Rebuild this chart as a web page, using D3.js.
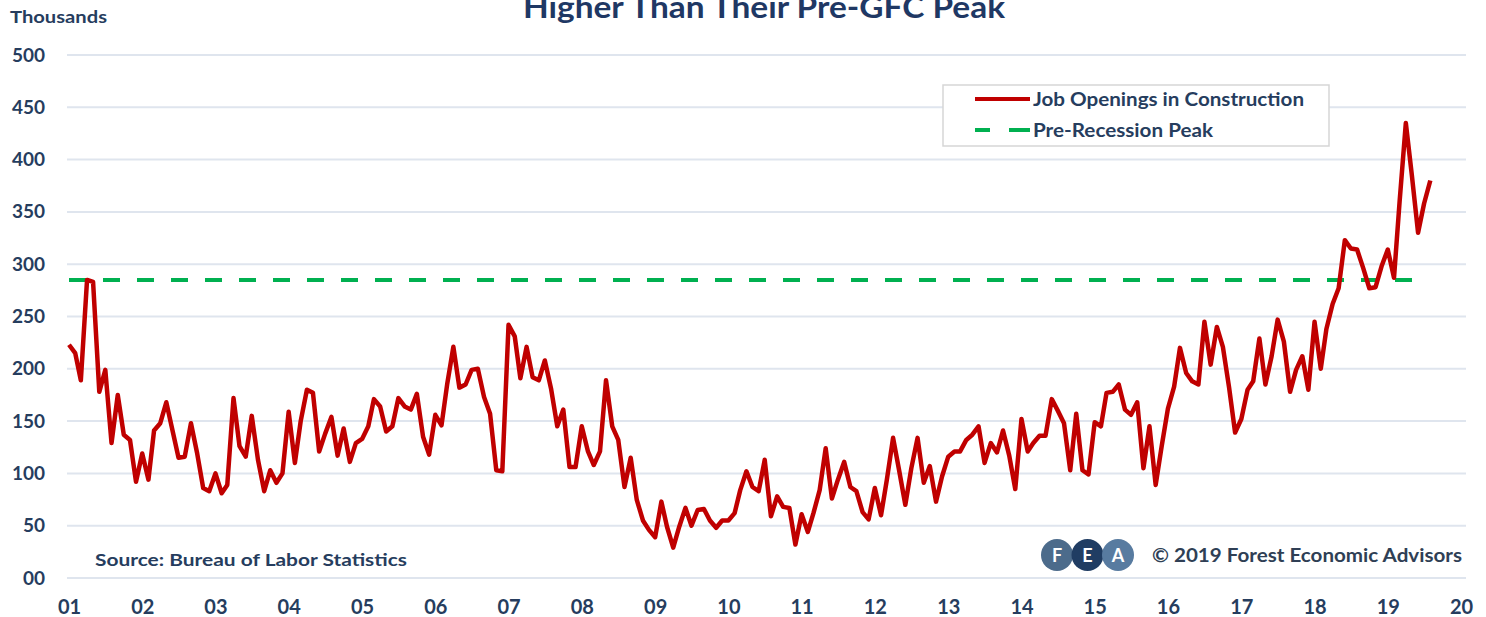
<!DOCTYPE html>
<html>
<head>
<meta charset="utf-8">
<script src="https://cdn.jsdelivr.net/npm/d3@7"></script>
<style>
  body { margin: 0; background: #fff; }
  svg { display: block; font-family: Lato, "Open Sans", sans-serif; font-weight: 700; }
</style>
</head>
<body>
<svg id="chart" width="1486" height="617"></svg>
<script>
// monthly job openings in construction, thousands, Jan 2001 - Aug 2019
const startYear = 2001;
const openings = [
  223, 215, 189, 285, 283, 178, 199, 129, 175, 137, 132, 92,   // 2001
  119, 94, 141, 148, 168, 141, 115, 116, 148, 120, 86, 83,      // 2002
  100, 81, 89, 172, 126, 116, 155, 113, 83, 103, 91, 100,       // 2003
  159, 110, 150, 180, 177, 121, 138, 154, 117, 143, 111, 129,   // 2004
  133, 145, 171, 164, 140, 145, 172, 164, 161, 176, 135, 118,   // 2005
  156, 146, 185, 221, 182, 185, 199, 200, 173, 157, 103, 102,   // 2006
  242, 231, 191, 221, 192, 189, 208, 181, 145, 161, 106, 106,   // 2007
  145, 121, 108, 121, 189, 145, 132, 87, 115, 75, 55, 46,       // 2008
  39, 73, 49, 29, 49, 67, 50, 65, 66, 55, 48, 55,               // 2009
  55, 62, 84, 102, 87, 83, 113, 59, 78, 68, 67, 32,             // 2010
  61, 44, 62, 84, 124, 76, 94, 111, 87, 83, 63, 56,             // 2011
  86, 60, 94, 134, 103, 70, 105, 134, 91, 107, 73, 97,          // 2012
  116, 121, 121, 132, 137, 145, 110, 129, 120, 141, 117, 85,    // 2013
  152, 121, 129, 136, 136, 171, 160, 148, 103, 157, 103, 99,    // 2014
  149, 145, 177, 178, 185, 161, 156, 168, 105, 145, 89, 126,    // 2015
  162, 183, 220, 196, 188, 185, 245, 204, 240, 221, 182, 139,   // 2016
  152, 180, 188, 229, 185, 212, 247, 226, 178, 199, 212, 180,   // 2017
  245, 200, 238, 262, 277, 323, 315, 314, 296, 277, 278, 298,   // 2018
  314, 287, 360, 435, 385, 330, 358, 380                        // 2019
];
const peakValue = 285;
const peakSpan = [new Date(2001, 0, 1), new Date(2019, 5, 1)];
const yTicks = [0, 50, 100, 150, 200, 250, 300, 350, 400, 450, 500];
const legendLabels = ["Job Openings in Construction", "Pre-Recession Peak"];
const logoLetters = ["F", "E", "A"];

const NAVY = "#263d5e";
const RED = "#c00000";
const GREEN = "#00b050";
const GRID = "#dfe5ee";

const series = openings.map((v, i) => ({ date: new Date(startYear, i, 1), value: v }));

const svg = d3.select("#chart");

const x = d3.scaleTime()
  .domain([new Date(2001, 0, 1), new Date(2020, 0, 1)])
  .range([69, 1461]);
const y = d3.scaleLinear().domain([0, 500]).range([578, 55]);

// gridlines
svg.append("g").selectAll("line").data(yTicks).join("line")
  .attr("x1", 67).attr("x2", 1466)
  .attr("y1", d => y(d)).attr("y2", d => y(d))
  .attr("stroke", GRID).attr("stroke-width", 2);

// y axis labels
const yAxis = svg.append("g")
  .attr("transform", "translate(45,0)")
  .call(d3.axisLeft(y).tickValues(yTicks).tickSize(0).tickPadding(0)
    .tickFormat(d => d === 0 ? "00" : d));
yAxis.select(".domain").remove();
yAxis.selectAll("text")
  .attr("fill", NAVY).attr("font-size", 19).attr("font-family", "Lato").attr("font-weight", 700);

// x axis labels
const xAxis = svg.append("g")
  .attr("transform", "translate(0,578)")
  .call(d3.axisBottom(x).ticks(d3.timeYear.every(1)).tickSize(0).tickPadding(22)
    .tickFormat(d3.timeFormat("%y")));
xAxis.select(".domain").remove();
xAxis.selectAll("text")
  .attr("fill", NAVY).attr("font-size", 20).attr("font-family", "Lato").attr("font-weight", 700);

// title, clipped at the top in the original
svg.append("text")
  .attr("x", 523).attr("y", 18)
  .attr("fill", "#1f3864").attr("font-size", 31)
  .attr("textLength", 482).attr("lengthAdjust", "spacingAndGlyphs")
  .text("Higher Than Their Pre-GFC Peak");

svg.append("text")
  .attr("x", 10).attr("y", 23)
  .attr("fill", NAVY).attr("font-size", 17)
  .attr("textLength", 97).attr("lengthAdjust", "spacingAndGlyphs")
  .text("Thousands");

// legend box
const legend = svg.append("g");
legend.append("rect")
  .attr("x", 943).attr("y", 85).attr("width", 386).attr("height", 61)
  .attr("fill", "#fff").attr("stroke", "#d6d6d6").attr("stroke-width", 1.5);
legend.append("line")
  .attr("x1", 975).attr("x2", 1030).attr("y1", 99).attr("y2", 99)
  .attr("stroke", RED).attr("stroke-width", 4);
legend.append("line")
  .attr("x1", 975).attr("x2", 1030).attr("y1", 130).attr("y2", 130)
  .attr("stroke", GREEN).attr("stroke-width", 4).attr("stroke-dasharray", "15 19 21 10");
const legendWidths = [271, 180];
legend.selectAll("text").data(legendLabels).join("text")
  .attr("x", 1033).attr("y", (d, i) => 106 + i * 31)
  .attr("fill", NAVY).attr("font-size", 18)
  .attr("textLength", (d, i) => legendWidths[i]).attr("lengthAdjust", "spacingAndGlyphs")
  .text(d => d);

// pre-recession peak
const peakLine = d3.line().x(d => x(d)).y(() => y(peakValue));
svg.append("path")
  .attr("d", peakLine(peakSpan))
  .attr("fill", "none").attr("stroke", GREEN).attr("stroke-width", 4)
  .attr("stroke-dasharray", "17 17");

// job openings line
const line = d3.line().x(d => x(d.date)).y(d => y(d.value));
svg.append("path")
  .datum(series)
  .attr("d", line)
  .attr("fill", "none").attr("stroke", RED).attr("stroke-width", 4.5)
  .attr("stroke-linejoin", "round");

// source
svg.append("text")
  .attr("x", 95).attr("y", 566)
  .attr("fill", NAVY).attr("font-size", 17)
  .attr("textLength", 312).attr("lengthAdjust", "spacingAndGlyphs")
  .text("Source: Bureau of Labor Statistics");

// FEA logo
const logo = svg.append("g").attr("transform", "translate(1057,555)");
const logoColors = ["#4c6b8b", "#203d63", "#587ba0"];
logo.selectAll("circle").data(logoLetters).join("circle")
  .attr("cx", (d, i) => i * 30.5).attr("cy", 0).attr("r", 16)
  .attr("fill", (d, i) => logoColors[i]);
logo.selectAll("text").data(logoLetters).join("text")
  .attr("x", (d, i) => i * 30.5).attr("y", 6.5)
  .attr("text-anchor", "middle").attr("fill", "#fff").attr("font-size", 18)
  .text(d => d);

svg.append("text")
  .attr("x", 1152).attr("y", 562)
  .attr("fill", "#2f3f55").attr("font-size", 18.5)
  .attr("textLength", 310).attr("lengthAdjust", "spacingAndGlyphs")
  .text("\u00a9 2019 Forest Economic Advisors");
</script>
</body>
</html>
